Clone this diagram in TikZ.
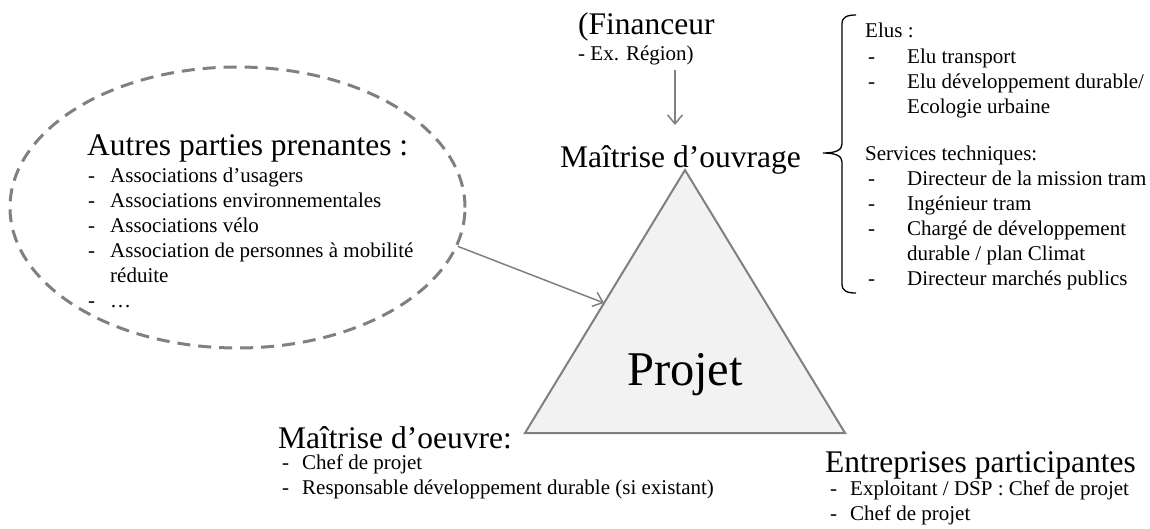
\documentclass[tikz,border=0pt]{standalone}
\usepackage{fontspec}
\setmainfont{Liberation Serif}
\usetikzlibrary{arrows.meta,shapes.geometric}
\definecolor{linegray}{HTML}{808080}
\definecolor{trifill}{HTML}{F2F2F2}
\tikzset{
  bigtxt/.style={font=\fontsize{31.5}{36}\selectfont, inner sep=0pt, anchor=base west},
  smalltxt/.style={font=\fontsize{21}{25}\selectfont, inner sep=0pt, anchor=base west},
  conn/.style={draw=linegray, line width=1.5pt, -{Straight Barb[length=9pt,width=15pt,line width=1.5pt]}},
  dashell/.style={ellipse, draw=linegray, line width=3pt, dash pattern=on 13pt off 8pt, inner sep=0pt, minimum width=455pt, minimum height=281pt},
  tri/.style={draw=linegray, fill=trifill, line width=2pt, line join=miter},
  bracepath/.style={draw=black, line width=1.3pt},
}
\begin{document}
\begin{tikzpicture}[x=1pt,y=-1pt]
\useasboundingbox (0,0) rectangle (1150,528);
% dashed ellipse
\node[dashell] (ell) at (237.5,207.5) {};
% triangle
\coordinate (apex) at (685,170);
\coordinate (bl) at (525,433);
\coordinate (br) at (845,433);
\coordinate (tl) at (604,303);
\path[tri] (apex) -- (bl) -- (br) -- cycle;
\node[font=\fontsize{48.5}{56}\selectfont, inner sep=0pt, anchor=base] (projet) at (685,385) {Projet};
% financeur
\node[bigtxt] (fin) at (578,34) {(Financeur};
\node[smalltxt] (fin2) at (578,60) {- Ex. Région)};
\coordinate (fa) at (675,70);
\coordinate (fb) at (675,125);
\draw[conn] (fa) -- (fb);
\node[bigtxt] (moa) at (560,167) {Maîtrise d’ouvrage};
% brace
\path[bracepath] (856,15) .. controls (847,15) and (842,17) .. (842,24) -- (842,144)
  .. controls (842,150) and (836,153) .. (823,153)
  .. controls (836,153) and (842,156) .. (842,162) -- (842,284)
  .. controls (842,291) and (847,293) .. (856,293);
% right column
\node[smalltxt] (elus) at (865,37) {Elus :};
\node[smalltxt] (eluslist) at (868,63) {\begin{tabular}[t]{@{}p{39pt}@{}l@{}}
-&Elu transport\\
-&Elu développement durable/\\
&Ecologie urbaine
\end{tabular}};
\node[smalltxt] (serv) at (865,160) {Services techniques:};
\node[smalltxt] (servlist) at (868,185) {\begin{tabular}[t]{@{}p{39pt}@{}l@{}}
-&Directeur de la mission tram\\
-&Ingénieur tram\\
-&Chargé de développement\\
&durable / plan Climat\\
-&Directeur marchés publics
\end{tabular}};
% left ellipse text
\node[bigtxt] (apt) at (87,155) {Autres parties prenantes :};
\node[smalltxt] (aptlist) at (88,182) {\begin{tabular}[t]{@{}p{22pt}@{}l@{}}
-&Associations d’usagers\\
-&Associations environnementales\\
-&Associations vélo\\
-&Association de personnes à mobilité\\
&réduite\\
-&…
\end{tabular}};
\draw[conn] (ell.-10.2) -- (tl);
% maitrise d'oeuvre
\node[bigtxt] (moe) at (278,448) {Maîtrise d’oeuvre:};
\node[smalltxt] (moelist) at (282,469) {\begin{tabular}[t]{@{}p{20pt}@{}l@{}}
-&Chef de projet\\
-&Responsable développement durable (si existant)
\end{tabular}};
% entreprises
\node[bigtxt] (ent) at (825,472) {Entreprises participantes};
\node[smalltxt] (entlist) at (830,495) {\begin{tabular}[t]{@{}p{20pt}@{}l@{}}
-&Exploitant / DSP : Chef de projet\\
-&Chef de projet
\end{tabular}};
\end{tikzpicture}
\end{document}
